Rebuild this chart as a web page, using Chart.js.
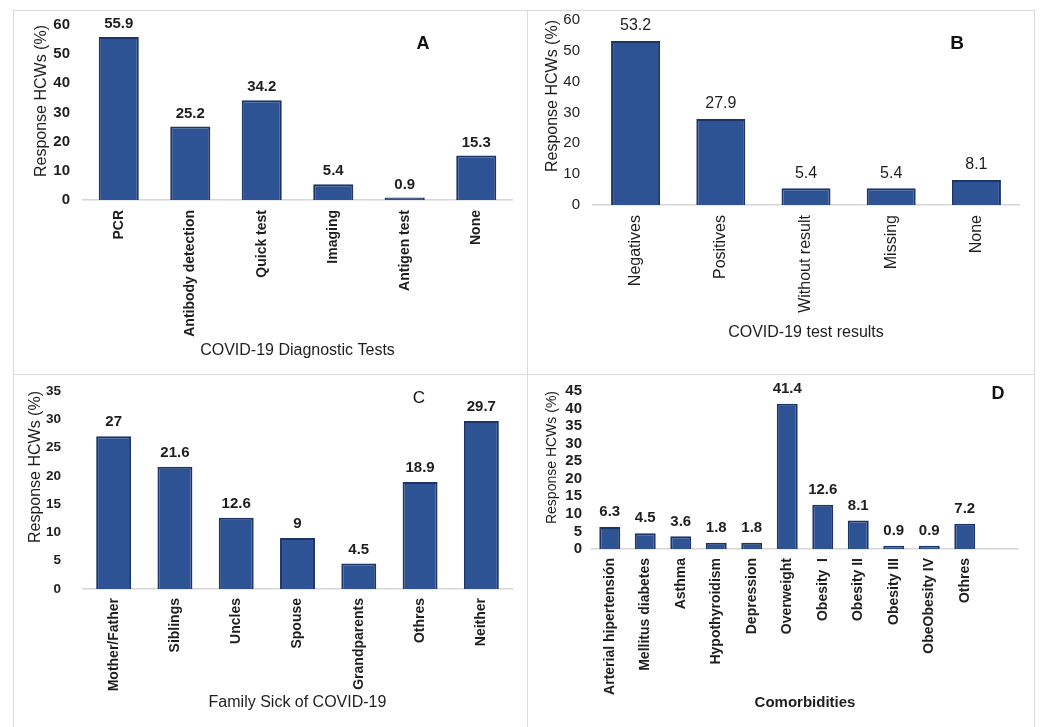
<!DOCTYPE html>
<html>
<head>
<meta charset="utf-8">
<script src="https://cdn.jsdelivr.net/npm/chart.js@4.4.1/dist/chart.umd.min.js"></script>
<style>
  html, body { margin: 0; padding: 0; background: #fff; }
  body { width: 1040px; height: 727px; position: relative; overflow: hidden; font-family: "Liberation Sans", Arial, sans-serif; }
  .rule { position: absolute; background: #dadada; }
  canvas { position: absolute; }
  .tag { position: absolute; transform: translate(-50%, -50%); color: #111; font-family: "Liberation Sans", Arial, sans-serif; }
</style>
</head>
<body>
<!-- panel frame -->
<div class="rule" style="left:13px;top:10px;width:1022px;height:1px"></div>
<div class="rule" style="left:13px;top:374px;width:1022px;height:1px"></div>
<div class="rule" style="left:13px;top:10px;width:1px;height:717px"></div>
<div class="rule" style="left:527px;top:10px;width:1px;height:717px"></div>
<div class="rule" style="left:1034px;top:10px;width:1px;height:717px"></div>

<canvas id="chartA" width="512" height="362" style="left:14px;top:11px"></canvas>
<canvas id="chartB" width="506" height="362" style="left:528px;top:11px"></canvas>
<canvas id="chartC" width="512" height="352" style="left:14px;top:375px"></canvas>
<canvas id="chartD" width="506" height="352" style="left:528px;top:375px"></canvas>

<div class="tag" style="left:423px;top:43px;font-size:18px;font-weight:bold">A</div>
<div class="tag" style="left:957px;top:43px;font-size:19px;font-weight:bold">B</div>
<div class="tag" style="left:419px;top:398px;font-size:17px">C</div>
<div class="tag" style="left:998px;top:393px;font-size:18px;font-weight:bold">D</div>

<script>
// Panel A: diagnostic tests
const testsA = ['PCR', 'Antibody detection', 'Quick test', 'Imaging', 'Antigen test', 'None'];
const valuesA = [55.9, 25.2, 34.2, 5.4, 0.9, 15.3];

// Panel B: test results
const resultsB = ['Negatives', 'Positives', 'Without result', 'Missing', 'None'];
const valuesB = [53.2, 27.9, 5.4, 5.4, 8.1];

// Panel C: family members sick
const familyC = ['Mother/Father', 'Siblings', 'Uncles', 'Spouse', 'Grandparents', 'Othres', 'Neither'];
const valuesC = [27, 21.6, 12.6, 9, 4.5, 18.9, 29.7];

// Panel D: comorbidities (last slot left empty on the axis)
const comorbD = ['Arterial hipertensión', 'Mellitus diabetes', 'Asthma', 'Hypothyroidism', 'Depression',
  'Overweight', 'Obesity  I', 'Obesity II', 'Obesity III', 'ObeObesity IV', 'Othres', ''];
const valuesD = [6.3, 4.5, 3.6, 1.8, 1.8, 41.4, 12.6, 8.1, 0.9, 0.9, 7.2, null];

const yTitle = 'Response HCWs (%)';
const FONT = '"Liberation Sans", Arial, sans-serif';
const INK = '#1e1e1e';

// value printed above each bar
const valueLabels = {
  id: 'valueLabels',
  afterDatasetsDraw(chart, args, opts) {
    const ctx = chart.ctx;
    const data = chart.data.datasets[0].data;
    const meta = chart.getDatasetMeta(0);
    ctx.save();
    ctx.font = opts.font;
    ctx.fillStyle = INK;
    ctx.textAlign = 'center';
    ctx.textBaseline = 'middle';
    meta.data.forEach((bar, i) => {
      if (data[i] === null || data[i] === undefined) return;
      ctx.fillText(String(data[i]), bar.x, bar.y - opts.offset);
    });
    ctx.restore();
  }
};

function barChart(id, s) {
  return new Chart(document.getElementById(id), {
    type: 'bar',
    data: {
      labels: s.labels,
      datasets: [{
        data: s.values,
        backgroundColor: '#2E5395',
        borderColor: '#1D3566',
        borderWidth: 2,
        barPercentage: s.barPct,
        categoryPercentage: 1
      }]
    },
    options: {
      responsive: false,
      animation: false,
      events: [],
      layout: { padding: s.pad },
      plugins: {
        legend: { display: false },
        tooltip: { enabled: false },
        valueLabels: { font: s.valueFont, offset: s.valueOffset }
      },
      scales: {
        x: {
          grid: { display: false, drawTicks: true, tickLength: s.xTickGap },
          border: { display: true, color: '#d6d6d6', width: 1.5 },
          ticks: {
            color: INK, font: s.xTickFont, minRotation: 90, maxRotation: 90,
            autoSkip: false, padding: 0
          },
          title: { display: true, text: s.xTitle, color: INK, font: s.xTitleFont, padding: { top: 0, bottom: s.xTitlePad } },
          afterFit(scale) { scale.height = s.xHeight; }
        },
        y: {
          min: 0, max: s.yMax,
          grid: { display: false, drawTicks: true, tickLength: s.yTickGap },
          border: { display: false },
          ticks: {
            stepSize: s.yStep, color: INK, font: s.yTickFont, padding: 0,
            autoSkip: false, maxTicksLimit: 30
          },
          title: {
            display: true, text: yTitle, color: INK, font: s.yTitleFont, align: 'end',
            padding: { top: s.yTitlePad, bottom: 0 }
          },
          afterFit(scale) { scale.width = s.yWidth; }
        }
      }
    },
    plugins: [valueLabels]
  });
}

barChart('chartA', {
  labels: testsA, values: valuesA, yMax: 60, yStep: 10, barPct: 0.56,
  pad: { left: 15, right: 14, top: 14, bottom: 10 },
  yWidth: 54, xHeight: 163,
  yTickFont: { family: FONT, size: 15, weight: 'bold' }, yTickGap: 13,
  xTickFont: { family: FONT, size: 14, weight: 'bold' }, xTickGap: 10,
  yTitleFont: { family: FONT, size: 16 }, yTitlePad: 3,
  xTitle: 'COVID-19 Diagnostic Tests', xTitleFont: { family: FONT, size: 16 }, xTitlePad: 3,
  valueFont: 'bold 15px ' + FONT, valueOffset: 13
});

barChart('chartB', {
  labels: resultsB, values: valuesB, yMax: 60, yStep: 10, barPct: 0.575,
  pad: { left: 12, right: 15, top: 9, bottom: 10 },
  yWidth: 53, xHeight: 158,
  yTickFont: { family: FONT, size: 15 }, yTickGap: 13,
  xTickFont: { family: FONT, size: 16 }, xTickGap: 10,
  yTitleFont: { family: FONT, size: 16 }, yTitlePad: 3,
  xTitle: 'COVID-19 test results', xTitleFont: { family: FONT, size: 16 }, xTitlePad: 21,
  valueFont: '16px ' + FONT, valueOffset: 15
});

barChart('chartC', {
  labels: familyC, values: valuesC, yMax: 35, yStep: 5, barPct: 0.57,
  pad: { left: 11, right: 14, top: 16, bottom: 5 },
  yWidth: 58, xHeight: 133,
  yTickFont: { family: FONT, size: 13.5, weight: 'bold' }, yTickGap: 22,
  xTickFont: { family: FONT, size: 14, weight: 'bold' }, xTickGap: 9,
  yTitleFont: { family: FONT, size: 16 }, yTitlePad: 1,
  xTitle: 'Family Sick of COVID-19', xTitleFont: { family: FONT, size: 16 }, xTitlePad: 10,
  valueFont: 'bold 15px ' + FONT, valueOffset: 14
});

barChart('chartD', {
  labels: comorbD, values: valuesD, yMax: 45, yStep: 5, barPct: 0.59,
  pad: { left: 12, right: 16, top: 16, bottom: 5 },
  yWidth: 52, xHeight: 173,
  yTickFont: { family: FONT, size: 15, weight: 'bold', lineHeight: 1 }, yTickGap: 10,
  xTickFont: { family: FONT, size: 14, weight: 'bold' }, xTickGap: 9,
  yTitleFont: { family: FONT, size: 14 }, yTitlePad: 4,
  xTitle: 'Comorbidities', xTitleFont: { family: FONT, size: 15, weight: 'bold' }, xTitlePad: 10,
  valueFont: 'bold 15px ' + FONT, valueOffset: 15
});
</script>
</body>
</html>
